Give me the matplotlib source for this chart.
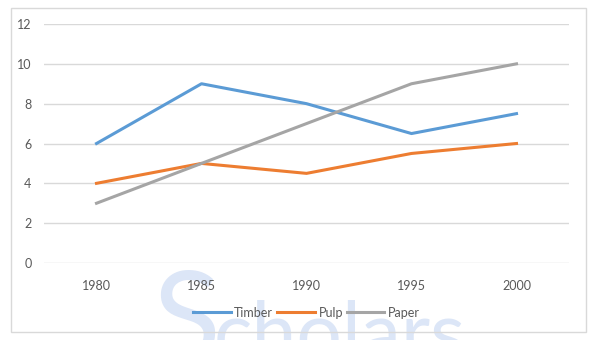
import matplotlib
matplotlib.use("Agg")
import matplotlib.pyplot as plt
from matplotlib.patches import Rectangle

years = ["1980", "1985", "1990", "1995", "2000"]
timber = [6, 9, 8, 6.5, 7.5]
pulp = [4, 5, 4.5, 5.5, 6]
paper = [3, 5, 7, 9, 10]

plt.rcParams['font.family'] = ['Lato', 'DejaVu Sans']

fig = plt.figure(figsize=(5.99, 3.40), dpi=100)
ax = fig.add_axes([44 / 599, 1 - 263 / 340, 525 / 599, 239 / 340])
ax.set_zorder(2)

# faint watermark behind the chart
wm = "#dce6f7"
base = 1 - 360 / 340
fig.text(153 / 599, base, "S", fontsize=90, color=wm, ha="left", va="baseline", zorder=-2)
fig.text(214 / 599, base, "cholars", fontsize=58, color=wm, ha="left", va="baseline", zorder=-2)

# outer chart border
fig.patches.append(Rectangle((11 / 599, 1 - 332 / 340), 575 / 599, 324 / 340,
                             transform=fig.transFigure, fill=False,
                             edgecolor="#d9d9d9", linewidth=1, zorder=-1))

x = range(len(years))
ax.plot(x, timber, color="#5b9bd5", linewidth=2.2, label="Timber")
ax.plot(x, pulp, color="#ed7d31", linewidth=2.2, label="Pulp")
ax.plot(x, paper, color="#a5a5a5", linewidth=2.2, label="Paper")

ax.set_xlim(-0.5, 4.5)
ax.set_ylim(0, 12)
ax.set_yticks(range(0, 13, 2))
ax.set_xticks(list(x))
ax.set_xticklabels(years)
ax.grid(axis="y", color="#d9d9d9", linewidth=1)
ax.set_axisbelow(True)
for s in ax.spines.values():
    s.set_visible(False)
ax.tick_params(length=0, labelsize=9, labelcolor="#595959")
ax.tick_params(axis="x", pad=12)
ax.tick_params(axis="y", pad=9)
ax.patch.set_alpha(0)

ax.legend(loc="upper center", bbox_to_anchor=(0.5, -0.135), ncol=3, frameon=False,
          fontsize=9, labelcolor="#595959", handlelength=3, columnspacing=0.3,
          handletextpad=0.3)

fig.savefig("out.png", dpi=100)
